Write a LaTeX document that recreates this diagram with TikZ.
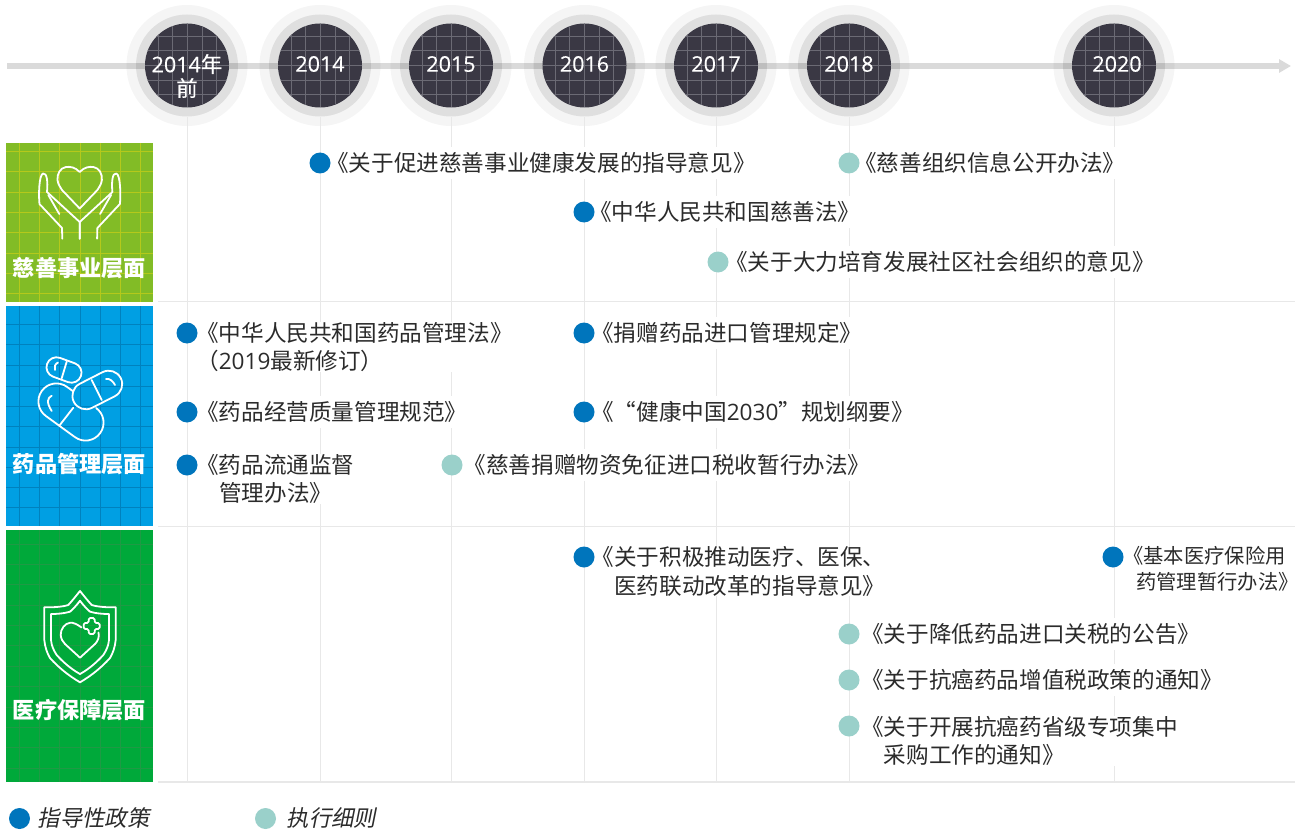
\documentclass[tikz,border=0pt]{standalone}
\usepackage{fontspec}
\usetikzlibrary{arrows.meta}
\setmainfont{Noto Sans CJK SC}
\newfontfamily\lat{Open Sans}
\newfontfamily\latheavy[FakeBold=0.4]{Open Sans}
\newfontfamily\cjkheavy[FakeBold=0.3]{Noto Sans CJK SC}
\newfontfamily\cjkslant[FakeSlant=0.2]{Noto Sans CJK SC}
\newcommand{\dg}[1]{{\lat #1}}
\newcommand{\yr}[1]{{\latheavy #1}}
\definecolor{bandA}{HTML}{82BC26}
\definecolor{gridA}{HTML}{B5C91B}
\definecolor{bandB}{HTML}{009FE3}
\definecolor{gridB}{HTML}{0081BE}
\definecolor{bandC}{HTML}{00A93A}
\definecolor{gridC}{HTML}{1F9A45}
\definecolor{dotblue}{HTML}{0075BC}
\definecolor{dotteal}{HTML}{9AD0CA}
\definecolor{yeardark}{HTML}{3A3844}
\definecolor{yeargrid}{HTML}{6B6A74}
\definecolor{rulegray}{HTML}{E8E8E8}
\definecolor{inktext}{HTML}{2B2B2B}
\tikzset{
	ringout/.style={circle, fill=black, fill opacity=0.04, minimum size=121pt, inner sep=0pt},
	ringin/.style={circle, fill=black, fill opacity=0.09, minimum size=102pt, inner sep=0pt},
	yearbox/.style={circle, fill=yeardark, minimum size=84pt, inner sep=0pt, path picture={
		\foreach \d in {-29,-15,0,15,29} {
			\draw[yeargrid, line width=0.8pt] ([xshift=\d pt]path picture bounding box.north) -- ([xshift=\d pt]path picture bounding box.south);
			\draw[yeargrid, line width=0.8pt] ([yshift=\d pt]path picture bounding box.west) -- ([yshift=\d pt]path picture bounding box.east);
		}
	}},
	yeartext/.style={text=white, align=center, inner sep=0pt, font={\fontsize{21.5}{24}\selectfont\cjkheavy}},
	policy/.style={anchor=west, fill=white, text=inktext, inner sep=0pt, align=left, minimum height=32pt, font={\fontsize{22.6}{28.5}\selectfont}},
	policysmall/.style={policy, font={\fontsize{20.3}{26}\selectfont}},
	blue dot/.style={circle, fill=dotblue, minimum size=21pt, inner sep=0pt},
	teal dot/.style={circle, fill=dotteal, minimum size=21pt, inner sep=0pt},
	bandtext/.style={text=white, inner sep=0pt, font={\fontsize{22.2}{24}\selectfont\bfseries}},
	legendtext/.style={anchor=west, text=inktext, inner sep=0pt, font={\fontsize{22.4}{24}\selectfont\cjkslant}},
	rule/.style={rulegray, line width=1pt},
	icon/.style={white, line width=1.8pt, line cap=round, line join=round},
}
\begin{document}
\begin{tikzpicture}[x=1pt, y=-1pt]
	\useasboundingbox (0,0) rectangle (1299,832);
	\coordinate (TLa)at(7, 66);
	\coordinate (TLb)at(1291, 66);
	\draw[-{Triangle[length=12pt,width=13pt]}, line width=6pt, color=black!6!rulegray] (TLa) -- (TLb);
	\foreach \y/\w in {301.5/1,526/1,782/1.5} {
		\draw[rule, line width=\w pt] (158,\y) -- (1295,\y);
	}
	\foreach \x/\u/\n/\h/\t in {187/187/13/76/{\yr{2014}年\\前}, 320/320/14/64/\yr{2014}, 451/451/15/64/\yr{2015}, 584.5/584.5/16/64/\yr{2016}, 716/716/17/64/\yr{2017}, 849/849/18/64/\yr{2018}, 1114/1117/20/64/\yr{2020}} {
		\node[ringout] (RO\n)at(\x, 65.5) {};
		\node[ringin] (RI\n)at(\x, 65.5) {};
		\node[yearbox] (Y\n)at(\x, 65.5) {};
		\node[yeartext] (T\n)at(\u, \h) {\t};
		\coordinate (E\n)at(\x, 782);
		\draw[rule] (RI\n.south) -- (E\n);
	}

	\fill[bandA] (6,143) rectangle (153,302);
	\foreach \x in {19,39,59,80,100.5,120.5,140.5} {
		\draw[gridA, line width=0.9pt] (\x,143) -- (\x,302);
	}
	\foreach \y in {151,171,192,212,232,253,273,293} {
		\draw[gridA, line width=0.9pt] (6,\y) -- (153,\y);
	}
	\fill[bandB] (6,306) rectangle (153,526);
	\foreach \x in {19,39,59,80,100.5,120.5,140.5} {
		\draw[gridB, line width=0.9pt] (\x,306) -- (\x,526);
	}
	\foreach \y in {324,344,365,386,406,426,447,467,487,507} {
		\draw[gridB, line width=0.9pt] (6,\y) -- (153,\y);
	}
	\fill[bandC] (6,530) rectangle (153,782);
	\foreach \x in {19,39,59,80,100.5,120.5,140.5} {
		\draw[gridC, line width=0.9pt] (\x,530) -- (\x,782);
	}
	\foreach \y in {544,564,584,605,625,645,666,686,707,727,747,768} {
		\draw[gridC, line width=0.9pt] (6,\y) -- (153,\y);
	}
	\node[bandtext] (LA)at(79.5, 268) {慈善事业层面};
	\node[bandtext] (LB)at(79.5, 464) {药品管理层面};
	\node[bandtext] (LC)at(79.5, 710) {医疗保障层面};

	\draw[icon] (79.7,172) .. controls (75,167) and (70,166.5) .. (66,167) .. controls (60,168) and (57,174) .. (57.5,180) .. controls (58,184) and (60,187) .. (62,190) -- (79.7,208.5) -- (97.4,190) .. controls (99.4,187) and (101.4,184) .. (101.9,180) .. controls (102.4,174) and (99.4,168) .. (93.4,167) .. controls (89.4,166.5) and (84.4,167) .. cycle;
	\foreach \s/\o in {1/0,-1/159.4} {
		\begin{scope}[xshift=\o pt, xscale=\s]
			\draw[icon] (62.3,238.7) -- (62,228) -- (39.5,204) .. controls (38.5,195) and (39,175) .. (43,173.5) .. controls (47,172.5) and (48,182) .. (47,192) -- (79.7,222) -- (79.7,238.7);
			\draw[icon] (48.3,195) -- (59.3,214);
		\end{scope}
	}

	\draw[icon, rounded corners=10pt, rotate around={-20:(64,370)}] (46,360) rectangle (82,380);
	\draw[icon] (66.7,361.7) -- (61.7,378.3);
	\draw[icon] (58,362.5) .. controls (55,364) and (54,367) .. (55,370);
	\draw[icon, rounded corners=13.5pt, rotate around={27:(97.3,390)}] (71,376.5) rectangle (123.6,403.5);
	\draw[icon] (91.7,380) -- (101.7,400);
	\draw[icon] (106,379) .. controls (109,378) and (113,381) .. (115,385);
	\begin{scope}[rotate around={-36:(71,412)}]
		\draw[icon] (61,394) -- (53,394) .. controls (43.1,394) and (35,402) .. (35,412) .. controls (35,422) and (43.1,430) .. (53,430) -- (89,430) .. controls (98.9,430) and (107,422) .. (107,412) .. controls (107,402) and (98.9,394) .. (89,394);
	\end{scope}
	\draw[icon] (73.3,407.7) -- (59.3,425.7);
	\draw[icon] (51.7,395.7) .. controls (47.5,398) and (46,402) .. (51.7,411);

	\draw[icon] (80,591) .. controls (76,596) and (72,601) .. (68.3,605) .. controls (62,607) and (52,607.5) .. (44.3,607.3) -- (44.3,640) .. controls (45,647) and (47,653) .. (50,658) .. controls (58,667) and (69,676) .. (80,682.3) .. controls (91,676) and (102,667) .. (110,658) .. controls (113,653) and (115,647) .. (115.7,640) -- (115.7,607.3) .. controls (108,607.5) and (98,607) .. (91.7,605) .. controls (88,601) and (84,596) .. cycle;
	\draw[icon] (80,600.7) .. controls (77,605) and (73,609) .. (70,611.7) .. controls (64,613.5) and (57,614) .. (51,614) -- (51,640) .. controls (51.5,646) and (54,651) .. (56.7,655) .. controls (63,662) and (71,669) .. (80,674) .. controls (89,669) and (97,662) .. (103.3,655) .. controls (106,651) and (108.5,646) .. (109,640) -- (109,614) .. controls (103,614) and (96,613.5) .. (90,611.7) .. controls (87,609) and (83,605) .. cycle;
	\draw[icon] (81.5,627.5) .. controls (77,624) and (73,622.5) .. (70.5,622.7) .. controls (65,623) and (60.5,629) .. (60.7,635) .. controls (61,639) and (63,642) .. (65,644) -- (80,657.7) -- (95,644) .. controls (98,641) and (99.5,637) .. (98.5,632.5);
	\draw[icon, rounded corners=1.5pt] (88.7,618) -- (94.7,618) -- (94.7,623) -- (99.7,623) -- (99.7,629) -- (94.7,629) -- (94.7,634) -- (88.7,634) -- (88.7,629) -- (83.7,629) -- (83.7,623) -- (88.7,623) -- cycle;

	\node[policy] (A1)at(326, 163) {《关于促进慈善事业健康发展的指导意见》};
	\node[policy] (A2)at(589, 212) {《中华人民共和国慈善法》};
	\node[policy] (A3)at(854, 163) {《慈善组织信息公开办法》};
	\node[policy] (A4)at(725, 262) {《关于大力培育发展社区社会组织的意见》};
	\node[policy] (B1)at(196, 347) {《中华人民共和国药品管理法》\\（\dg{2019}最新修订）};
	\node[policy] (B2)at(196, 412) {《药品经营质量管理规范》};
	\node[policy] (B3)at(196, 479) {《药品流通监督\\\hspace*{23pt}管理办法》};
	\node[policy] (B4)at(463.5, 465) {《慈善捐赠物资免征进口税收暂行办法》};
	\node[policy] (B5)at(591, 333) {《捐赠药品进口管理规定》};
	\node[policy] (B6)at(591, 412) {《“健康中国\dg{2030}”规划纲要》};
	\node[policy] (C1)at(591.5, 571.5) {《关于积极推动医疗、医保、\\\hspace*{22.6pt}医药联动改革的指导意见》};
	\node[policysmall] (C2)at(1123, 569) {《基本医疗保险用\\\hspace*{13pt}药管理暂行办法》};
	\node[policy] (C3)at(861, 634) {《关于降低药品进口关税的公告》};
	\node[policy] (C4)at(861, 680) {《关于抗癌药品增值税政策的通知》};
	\node[policy] (C5)at(861, 741) {《关于开展抗癌药省级专项集中\\\hspace*{22.6pt}采购工作的通知》};

	\node[blue dot] (DA1)at(320, 163) {};
	\node[blue dot] (DA2)at(584, 212) {};
	\node[teal dot] (DA3)at(849, 163) {};
	\node[teal dot] (DA4)at(718, 262) {};
	\node[blue dot] (DB1)at(187, 333) {};
	\node[blue dot] (DB2)at(187, 412) {};
	\node[blue dot] (DB3)at(187, 465) {};
	\node[teal dot] (DB4)at(452, 465) {};
	\node[blue dot] (DB5)at(584, 333) {};
	\node[blue dot] (DB6)at(584, 412) {};
	\node[blue dot] (DC1)at(584, 557) {};
	\node[blue dot] (DC2)at(1113, 557) {};
	\node[teal dot] (DC3)at(849, 634) {};
	\node[teal dot] (DC4)at(849, 680) {};
	\node[teal dot] (DC5)at(849, 726) {};

	\node[blue dot] (KA)at(19.5, 818.5) {};
	\node[legendtext] (KAt)at(37.5, 818) {指导性政策};
	\node[teal dot] (KB)at(265.5, 818.5) {};
	\node[legendtext] (KBt)at(286.5, 818) {执行细则};
\end{tikzpicture}
\end{document}
